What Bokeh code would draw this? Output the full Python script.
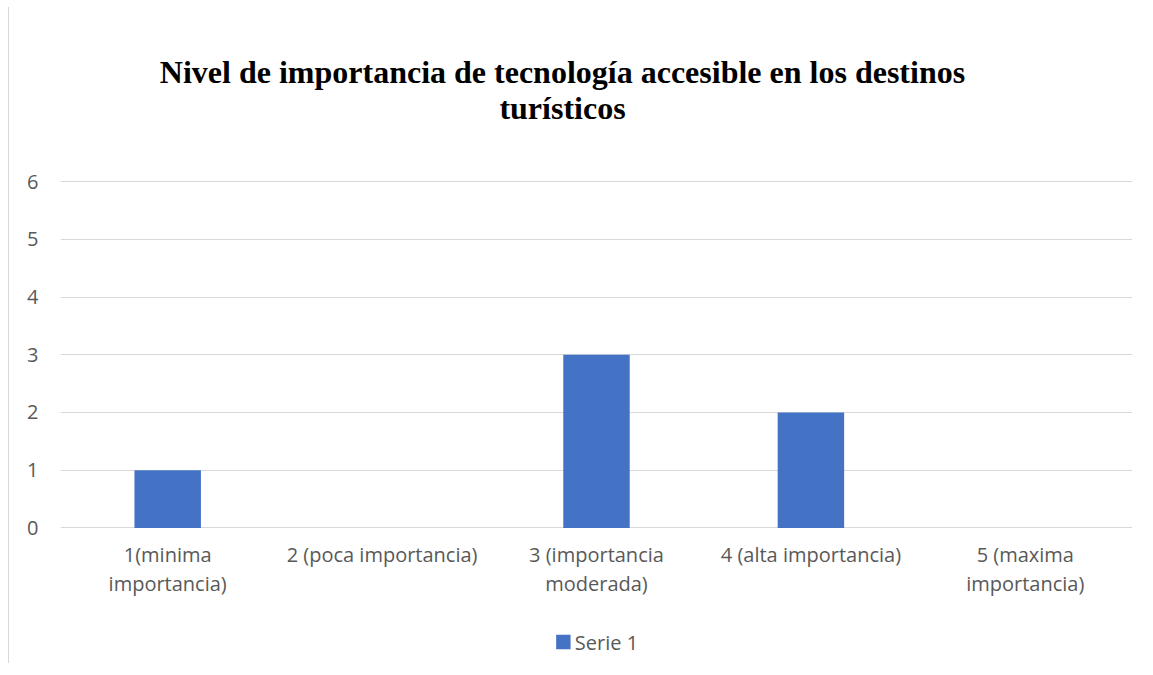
from bokeh.plotting import figure
from bokeh.layouts import column
from bokeh.models import Range1d, FixedTicker, Legend, LegendItem
from bokeh.core.properties import value
from bokeh.embed import file_html
from bokeh.resources import INLINE

categories = ["1(minima\nimportancia)", "2 (poca importancia)", "3 (importancia\nmoderada)",
              "4 (alta importancia)", "5 (maxima\nimportancia)"]
values = [1, 0, 3, 2, 0]
y_ticks = [0, 1, 2, 3, 4, 5, 6]
title_lines = ["Nivel de importancia de tecnología accesible en los destinos", "turísticos"]
series_name = "Serie 1"

GRAY = "#595959"
BLUE = "#4472C4"
FONT = "Open Sans"
FSIZE = "20px"

# ---- layout constants (pixels) ----
PAGE_TOP = 7                     # top of the chart block on the page
W, H = 1140, 613                 # main figure canvas
TOP, LEFT, RIGHT = 10, 51, 17
FRAME_BOTTOM_PAGE = 527.5
BOTTOM = PAGE_TOP + H - FRAME_BOTTOM_PAGE
PX_PER_UNIT = 346 / 6.0
Y0 = -0.01
frame_h = H - TOP - BOTTOM
y_end = Y0 + frame_h / PX_PER_UNIT


def page_y_to_data(py):
    return Y0 + (FRAME_BOTTOM_PAGE - py) / PX_PER_UNIT


p = figure(x_range=categories, y_range=Range1d(Y0, y_end), width=W, height=int(H),
           output_backend="svg", toolbar_location=None,
           min_border_left=LEFT, min_border_right=RIGHT, min_border_top=TOP,
           min_border_bottom=int(round(BOTTOM)))
p.outline_line_color = None

r = p.vbar(x=categories, top=values, width=0.31, fill_color=BLUE, line_color=None)

p.xgrid.grid_line_color = None
p.ygrid.grid_line_color = "#d9d9d9"
p.ygrid.grid_line_width = 1
p.yaxis.ticker = FixedTicker(ticks=y_ticks)
for ax in (p.xaxis[0], p.yaxis[0]):
    ax.axis_line_color = None
    ax.major_tick_line_color = None
    ax.minor_tick_line_color = None
    ax.major_label_text_color = GRAY
    ax.major_label_text_font = FONT
    ax.major_label_text_font_size = FSIZE
p.yaxis.major_label_standoff = 16
p.xaxis.major_label_standoff = 6
p.xaxis.major_label_text_line_height = 1.1

# title, drawn in the upper empty part of the frame
title_x = 502 / 1072 * len(categories)
p.text(x=[title_x, title_x], y=[page_y_to_data(71), page_y_to_data(107)], text=title_lines,
       text_align="center", text_baseline="alphabetic",
       text_font=value("Liberation Serif"), text_font_style="bold",
       text_font_size="32px", text_color="black")

# legend strip (swatch renderer sits outside the visible range)
LEG_H = 43
q = figure(x_range=Range1d(0, 1), y_range=Range1d(0, 1), width=W, height=LEG_H,
           output_backend="svg", toolbar_location=None, x_axis_type=None, y_axis_type=None,
           min_border_left=4, min_border_right=0, min_border_top=0, min_border_bottom=0)
q.outline_line_color = None
q.grid.grid_line_color = None
swatch = q.vbar(x=[-5], top=[-5], width=0.1, fill_color=BLUE, line_color=None)
legend = Legend(items=[LegendItem(label=series_name, renderers=[swatch])],
                location="center", orientation="horizontal",
                glyph_width=18, glyph_height=18, label_standoff=3,
                label_text_font=FONT, label_text_font_size=FSIZE, label_text_color=GRAY,
                border_line_color=None, background_fill_alpha=0, padding=0, margin=0)
q.add_layout(legend, "center")

layout = column(p, q, spacing=0,
                styles={"margin-left": "8px", "margin-top": f"{PAGE_TOP}px",
                        "border-left": "1px solid #d9d9d9"})

open("out.html", "w").write(file_html(layout, INLINE))
